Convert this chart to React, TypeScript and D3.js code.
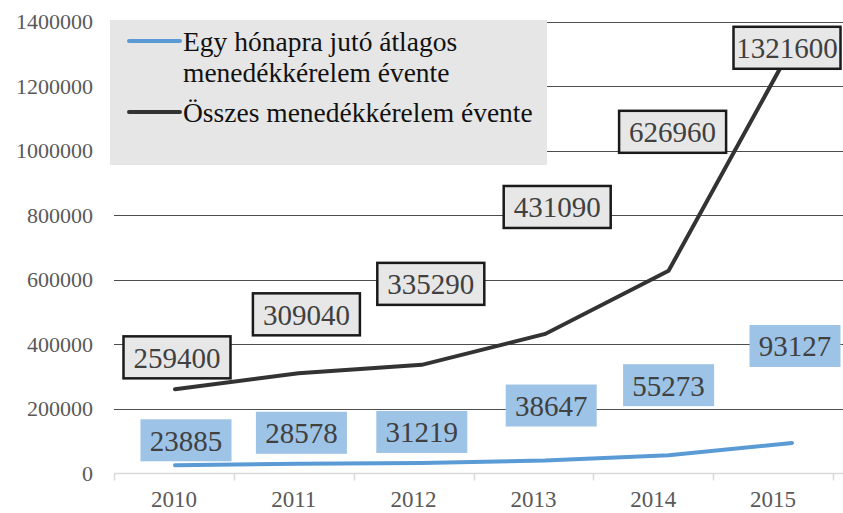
import React, { useRef, useEffect } from "react";
import * as d3 from "d3";

const years = ["2010", "2011", "2012", "2013", "2014", "2015"];
const monthlyAvg = [23885, 28578, 31219, 38647, 55273, 93127];
const yearlyTotal = [259400, 309040, 335290, 431090, 626960, 1321600];
const yTicks = [0, 200000, 400000, 600000, 800000, 1000000, 1200000, 1400000];
const legendMonthly = ["Egy hónapra jutó átlagos", "menedékkérelem évente"];
const legendTotal = "Összes menedékkérelem évente";

// label offsets from the point (px), as placed in the original chart
const totalLabelOffsets = [[2, -32], [8, -59], [9, -81], [12, -127], [4, -139], [-5, 1]];
const monthlyLabelOffsets = [[11, -25], [3, -31], [0, -31], [6, -55], [0, -70], [3, -97]];

const FONT = "'Liberation Serif', 'Times New Roman', serif";

export default function App() {
  const ref = useRef<SVGSVGElement>(null);

  useEffect(() => {
    const width = 843;
    const height = 513;
    const svg = d3.select(ref.current);
    svg.selectAll("*").remove();
    svg.attr("width", width).attr("height", height);

    const xAxis = d3.scaleBand().domain(years).range([114, 833]);
    const x = d3.scalePoint().domain(years).range([175, 792]);
    const y = d3.scaleLinear().domain([0, 1400000]).range([473, 21.5]);

    // gridlines
    svg.append("g")
      .selectAll("line")
      .data(yTicks.filter(d => d > 0))
      .join("line")
      .attr("x1", 114)
      .attr("x2", width)
      .attr("y1", d => Math.round(y(d)) + 0.5)
      .attr("y2", d => Math.round(y(d)) + 0.5)
      .attr("stroke", "#4d4d4d")
      .attr("stroke-width", 1.2);

    // y labels
    svg.append("g")
      .selectAll("text")
      .data(yTicks)
      .join("text")
      .attr("x", 93)
      .attr("y", d => y(d))
      .attr("dy", "0.35em")
      .attr("text-anchor", "end")
      .attr("font-family", FONT)
      .attr("font-size", 22)
      .attr("fill", "#595959")
      .text(d => d);

    // x axis
    const xa = svg.append("g").attr("transform", `translate(0,${Math.round(y(0)) + 0.5})`);
    xa.append("line").attr("x1", 114).attr("x2", width).attr("stroke", "#d9d9d9").attr("stroke-width", 1.5);
    xa.selectAll("line.tick")
      .data([...years.map(d => xAxis(d) as number), 833])
      .join("line")
      .attr("class", "tick")
      .attr("x1", d => Math.round(d) + 0.5)
      .attr("x2", d => Math.round(d) + 0.5)
      .attr("y1", 0)
      .attr("y2", 7)
      .attr("stroke", "#d9d9d9")
      .attr("stroke-width", 1.5);
    xa.selectAll("text")
      .data(years)
      .join("text")
      .attr("x", d => (xAxis(d) as number) + xAxis.bandwidth() / 2)
      .attr("y", 33)
      .attr("text-anchor", "middle")
      .attr("font-family", FONT)
      .attr("font-size", 23)
      .attr("fill", "#595959")
      .text(d => d);

    const line = d3.line<number>()
      .x((_, i) => x(years[i]) as number)
      .y(d => y(d));

    svg.append("path")
      .attr("d", line(yearlyTotal))
      .attr("fill", "none")
      .attr("stroke", "#333333")
      .attr("stroke-width", 4)
      .attr("stroke-linecap", "round");

    svg.append("path")
      .attr("d", line(monthlyAvg))
      .attr("fill", "none")
      .attr("stroke", "#5b9bd5")
      .attr("stroke-width", 4)
      .attr("stroke-linecap", "round");

    // data labels
    const drawLabels = (vals: number[], offs: number[][], w: number, h: number, fill: string, stroke: string | null) => {
      const g = svg.append("g")
        .selectAll("g")
        .data(vals)
        .join("g")
        .attr("transform", (d, i) =>
          `translate(${(x(years[i]) as number) + offs[i][0]},${y(d) + offs[i][1]})`);
      g.append("rect")
        .attr("x", -w / 2)
        .attr("y", -h / 2)
        .attr("width", w)
        .attr("height", h)
        .attr("fill", fill)
        .attr("stroke", stroke || "none")
        .attr("stroke-width", 2.5);
      g.append("text")
        .attr("text-anchor", "middle")
        .attr("dy", "0.36em")
        .attr("font-family", FONT)
        .attr("font-size", 29)
        .attr("fill", "#404040")
        .text(d => d);
    };
    drawLabels(yearlyTotal, totalLabelOffsets, 107, 42, "#e7e7e7", "#1a1a1a");
    drawLabels(monthlyAvg, monthlyLabelOffsets, 91, 42, "#9dc3e6", null);

    // legend
    const lg = svg.append("g");
    lg.append("rect").attr("x", 110).attr("y", 20).attr("width", 437).attr("height", 145).attr("fill", "#e6e6e6");
    lg.append("line").attr("x1", 129).attr("x2", 180).attr("y1", 41).attr("y2", 41)
      .attr("stroke", "#5b9bd5").attr("stroke-width", 4).attr("stroke-linecap", "round");
    lg.append("line").attr("x1", 129).attr("x2", 180).attr("y1", 112).attr("y2", 112)
      .attr("stroke", "#333333").attr("stroke-width", 4).attr("stroke-linecap", "round");
    lg.selectAll("text")
      .data([...legendMonthly, legendTotal])
      .join("text")
      .attr("x", 183)
      .attr("y", (_, i) => [51, 82, 122][i])
      .attr("font-family", FONT)
      .attr("font-size", 27.5)
      .attr("fill", "#111")
      .text(d => d);
  }, []);

  return (
    <div style={{ position: "absolute", left: 0, top: 0 }}>
      <svg ref={ref} style={{ display: "block" }}></svg>
    </div>
  );
}
